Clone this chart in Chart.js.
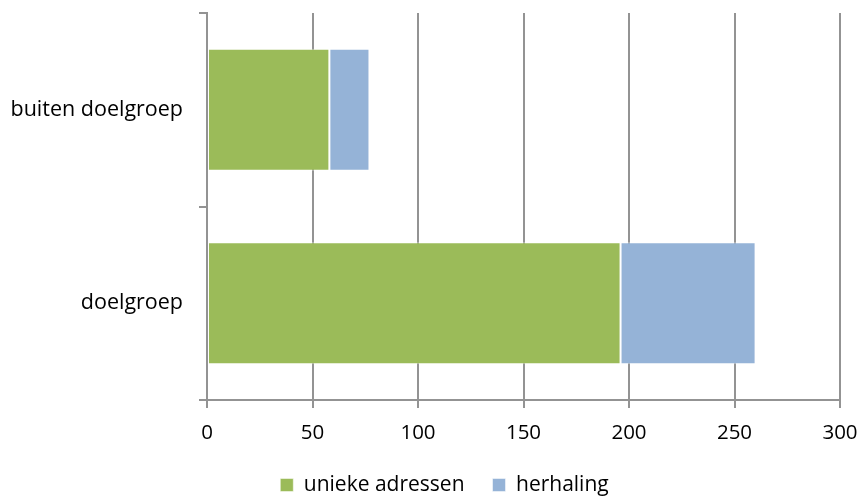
<!DOCTYPE html>
<html>
<head>
<meta charset="utf-8">
<script src="https://cdn.jsdelivr.net/npm/chart.js@4"></script>
<style>
  html, body { margin: 0; padding: 0; background: #fff; }
  #wrap { width: 860px; height: 497px; }
</style>
</head>
<body>
<div id="wrap"><canvas id="myChart"></canvas></div>
<script>
const categories = ['buiten doelgroep', 'doelgroep'];
const unieke = [58, 196];
const herhaling = [19, 64];
const xTicks = [0, 50, 100, 150, 200, 250, 300];

const gridColor = '#939393';
const family = '"Open Sans", sans-serif';

// drop the label overhang padding so the plot box sits where layout.padding puts it
function noPad(scale) {
  scale.paddingTop = 0;
  scale.paddingBottom = 0;
  scale.paddingLeft = 0;
  scale.paddingRight = 0;
}

// nudge the legend a bit right of the canvas centre
const legendShift = {
  id: 'legendShift',
  afterLayout(chart) {
    if (chart.legend) {
      chart.legend.left += 24.5;
      chart.legend.right += 24.5;
    }
  }
};

const ctx = document.getElementById('myChart');
new Chart(ctx, {
  type: 'bar',
  data: {
    labels: categories,
    datasets: [{
      label: 'unieke adressen',
      data: unieke,
      backgroundColor: '#9bbb59',
      borderColor: 'rgba(255,255,255,0.5)',
      borderWidth: 1,
      borderSkipped: false,
    }, {
      label: 'herhaling',
      data: herhaling,
      backgroundColor: '#95b3d7',
      borderColor: 'rgba(255,255,255,0.5)',
      borderWidth: 1,
      borderSkipped: false,
    }]
  },
  options: {
    indexAxis: 'y',
    responsive: true,
    maintainAspectRatio: false,
    animation: false,
    categoryPercentage: 1,
    barPercentage: 0.63,
    layout: { padding: { top: 13, right: 20, bottom: -8.5, left: 0 } },
    scales: {
      x: {
        stacked: true,
        min: 0,
        max: 300,
        afterBuildTicks: (scale) => { scale.ticks = xTicks.map(v => ({ value: v })); },
        afterFit: (scale) => { noPad(scale); scale.height = 46.5; },
        border: { color: gridColor, width: 2 },
        grid: { color: gridColor, lineWidth: 2, tickLength: 8 },
        ticks: { color: '#000', font: { family: family, size: 20.5 }, padding: 13 }
      },
      y: {
        stacked: true,
        afterFit: (scale) => { noPad(scale); scale.width = 207; },
        border: { color: gridColor, width: 2 },
        grid: { offset: true, drawOnChartArea: false, color: gridColor, lineWidth: 2, tickLength: 8 },
        ticks: { color: '#000', font: { family: family, size: 21.5 }, padding: 16 }
      }
    },
    plugins: {
      tooltip: { enabled: false },
      legend: {
        position: 'bottom',
        labels: {
          color: '#000',
          font: { family: family, size: 21 },
          padding: 28,
          boxWidth: 13,
          boxHeight: 13
        }
      }
    }
  },
  plugins: [legendShift]
});
</script>
</body>
</html>
